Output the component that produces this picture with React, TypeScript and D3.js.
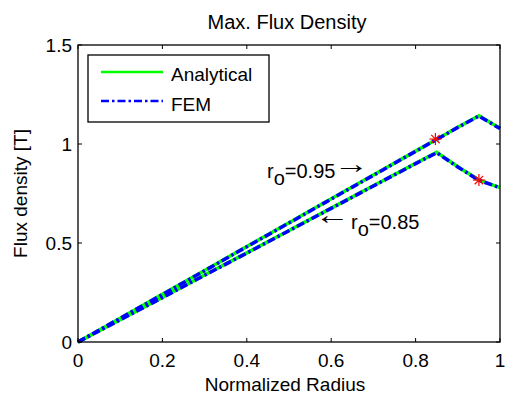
import * as d3 from "d3";
import React, { useRef, useEffect } from "react";

// normalized radius samples
const radius = [0, 0.1, 0.2, 0.3, 0.4, 0.5, 0.6, 0.7, 0.8, 0.85, 0.9, 0.95, 1.0];

// r_o = 0.95
const analytical95 = [0, 0.12, 0.241, 0.361, 0.482, 0.602, 0.723, 0.843, 0.964, 1.024, 1.085, 1.143, 1.079];
const fem95 = [0, 0.12, 0.24, 0.36, 0.481, 0.601, 0.722, 0.842, 0.963, 1.023, 1.084, 1.141, 1.078];

// r_o = 0.85
const analytical85 = [0, 0.113, 0.225, 0.338, 0.45, 0.563, 0.676, 0.789, 0.902, 0.958, 0.885, 0.818, 0.78];
const fem85 = [0, 0.112, 0.224, 0.337, 0.449, 0.562, 0.675, 0.788, 0.901, 0.956, 0.884, 0.817, 0.779];

// red star markers
const starX = [0.847, 0.95];
const starY = [1.025, 0.818];

const xTicks = [0, 0.2, 0.4, 0.6, 0.8, 1];
const yTicks = [0, 0.5, 1, 1.5];

const App: React.FC = () => {
  const svgRef = useRef<SVGSVGElement | null>(null);

  useEffect(() => {
    const width = 506;
    const height = 396;
    const margin = { top: 45, right: 6, bottom: 54, left: 78 };
    const font = "'Liberation Sans', Arial, sans-serif";
    const fs = "19px";

    const x = d3.scaleLinear().domain([0, 1]).range([margin.left, width - margin.right]);
    const y = d3.scaleLinear().domain([0, 1.5]).range([height - margin.bottom, margin.top]);

    const svg = d3.select(svgRef.current)
      .attr("width", width)
      .attr("height", height)
      .style("background", "white")
      .html("");

    const line = d3.line<number>()
      .x((_, i) => x(radius[i]))
      .y(d => y(d));

    // curves: green solid analytical, blue dash-dot FEM on top
    [analytical95, analytical85].forEach(s => {
      svg.append("path")
        .attr("d", line(s))
        .attr("fill", "none")
        .attr("stroke", "#00ff00")
        .attr("stroke-width", 3.5);
    });
    [fem95, fem85].forEach(s => {
      svg.append("path")
        .attr("d", line(s))
        .attr("fill", "none")
        .attr("stroke", "#0000ff")
        .attr("stroke-width", 3.5)
        .attr("stroke-dasharray", "8,3,2.5,3");
    });

    // star markers
    starX.forEach((sx, i) => {
      const cx = x(sx), cy = y(starY[i]);
      const r = 6;
      const g = svg.append("g").attr("stroke", "#ff0000").attr("stroke-width", 1.2);
      g.append("line").attr("x1", cx - r).attr("x2", cx + r).attr("y1", cy).attr("y2", cy);
      g.append("line").attr("x1", cx).attr("x2", cx).attr("y1", cy - r).attr("y2", cy + r);
      g.append("line").attr("x1", cx - r * 0.7).attr("x2", cx + r * 0.7).attr("y1", cy - r * 0.7).attr("y2", cy + r * 0.7);
      g.append("line").attr("x1", cx - r * 0.7).attr("x2", cx + r * 0.7).attr("y1", cy + r * 0.7).attr("y2", cy - r * 0.7);
    });

    // axes box
    const x0 = x(0), x1 = x(1), y0 = y(0), y1 = y(1.5);
    svg.append("rect")
      .attr("x", x0).attr("y", y1)
      .attr("width", x1 - x0).attr("height", y0 - y1)
      .attr("fill", "none").attr("stroke", "black").attr("stroke-width", 1.3);

    const tl = 4;
    xTicks.forEach(t => {
      svg.append("line").attr("x1", x(t)).attr("x2", x(t)).attr("y1", y0).attr("y2", y0 - tl).attr("stroke", "black");
      svg.append("line").attr("x1", x(t)).attr("x2", x(t)).attr("y1", y1).attr("y2", y1 + tl).attr("stroke", "black");
      svg.append("text")
        .attr("x", x(t)).attr("y", y0 + 25)
        .attr("text-anchor", "middle")
        .style("font-family", font).style("font-size", fs)
        .text(String(t));
    });
    yTicks.forEach(t => {
      svg.append("line").attr("x1", x0).attr("x2", x0 + tl).attr("y1", y(t)).attr("y2", y(t)).attr("stroke", "black");
      svg.append("line").attr("x1", x1).attr("x2", x1 - tl).attr("y1", y(t)).attr("y2", y(t)).attr("stroke", "black");
      svg.append("text")
        .attr("x", x0 - 6).attr("y", y(t) + 7)
        .attr("text-anchor", "end")
        .style("font-family", font).style("font-size", fs)
        .text(String(t));
    });

    // title and axis labels
    svg.append("text")
      .attr("x", (x0 + x1) / 2 - 2).attr("y", 29)
      .attr("text-anchor", "middle")
      .style("font-family", font).style("font-size", "20px")
      .text("Max. Flux Density");
    svg.append("text")
      .attr("x", (x0 + x1) / 2 - 4).attr("y", 391)
      .attr("text-anchor", "middle")
      .style("font-family", font).style("font-size", fs)
      .text("Normalized Radius");
    svg.append("text")
      .attr("transform", `translate(27,${(y0 + y1) / 2}) rotate(-90)`)
      .attr("text-anchor", "middle")
      .style("font-family", font).style("font-size", fs)
      .text("Flux density [T]");

    // annotations
    const afs = "20px";
    const ann1 = svg.append("text")
      .attr("x", 267).attr("y", 178)
      .style("font-family", font).style("font-size", afs);
    ann1.append("tspan").text("r");
    ann1.append("tspan").attr("dy", 7).text("o");
    ann1.append("tspan").attr("dy", -7).text("=0.95");
    svg.append("text")
      .attr("transform", "translate(334,173) scale(1.3,1)")
      .style("font-family", font).style("font-size", "27px")
      .text("\u2192");

    svg.append("text")
      .attr("transform", "translate(315,224) scale(1.3,1)")
      .style("font-family", font).style("font-size", "27px")
      .text("\u2190");
    const ann2 = svg.append("text")
      .attr("x", 351).attr("y", 229)
      .style("font-family", font).style("font-size", afs);
    ann2.append("tspan").text("r");
    ann2.append("tspan").attr("dy", 7).text("o");
    ann2.append("tspan").attr("dy", -7).text("=0.85");

    // legend
    const lx = 88, ly = 55, lw = 181, lh = 67;
    svg.append("rect")
      .attr("x", lx).attr("y", ly).attr("width", lw).attr("height", lh)
      .attr("fill", "white").attr("stroke", "black").attr("stroke-width", 1.3);
    svg.append("line")
      .attr("x1", 101).attr("x2", 163).attr("y1", 72).attr("y2", 72)
      .attr("stroke", "#00ff00").attr("stroke-width", 2.5);
    svg.append("line")
      .attr("x1", 101).attr("x2", 163).attr("y1", 101).attr("y2", 101)
      .attr("stroke", "#0000ff").attr("stroke-width", 2.5)
      .attr("stroke-dasharray", "8,3,2.5,3");
    svg.append("text")
      .attr("x", 171).attr("y", 81)
      .style("font-family", font).style("font-size", fs)
      .text("Analytical");
    svg.append("text")
      .attr("x", 171).attr("y", 111)
      .style("font-family", font).style("font-size", fs)
      .text("FEM");
  }, []);

  return <svg ref={svgRef} style={{ position: "absolute", left: 0, top: 0 }}></svg>;
};

export default App;
